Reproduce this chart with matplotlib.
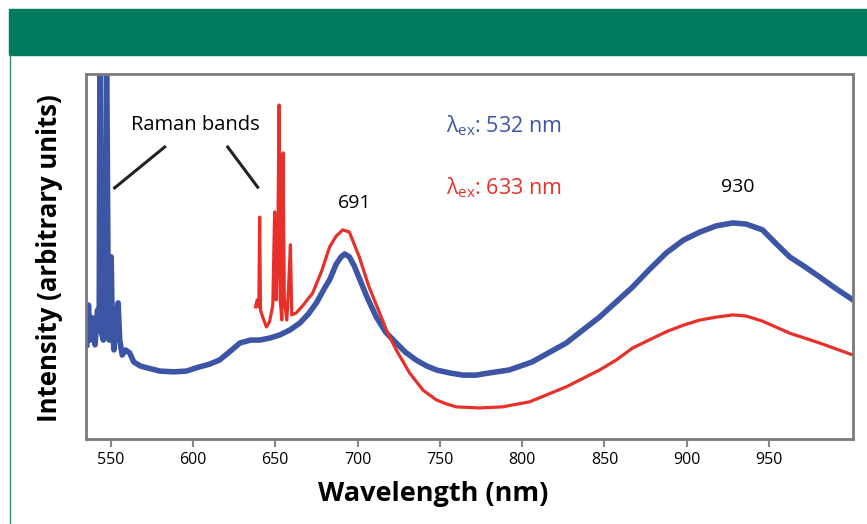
import matplotlib.pyplot as plt
from matplotlib.patches import Rectangle
from matplotlib.lines import Line2D

plt.rcParams['font.family'] = ['Open Sans', 'DejaVu Sans']
plt.rcParams['mathtext.fontset'] = 'custom'
plt.rcParams['mathtext.rm'] = 'Open Sans'

# spectrum excited at 532 nm (blue)
wl_532 = [535.5, 536.5, 537.5, 539, 540.5, 542, 543, 543.5, 544, 545.5, 546.5, 547.5,
          548.5, 549, 550.3, 551, 552, 553, 554.5, 555.5, 557, 559, 561.5, 564, 568,
          572, 580, 588, 596, 602, 610, 616, 622, 628.5, 635, 640.6, 647, 652.7, 659,
          665, 670, 675, 680, 683, 687, 690, 692.2, 695, 698, 702, 706, 711.4, 717,
          723.5, 729, 735.7, 742, 748, 756, 764, 772, 780, 792, 806, 816, 826.8, 837,
          847, 857, 867, 877, 887.6, 898, 908, 918, 928, 936, 946, 955, 962.5, 972,
          980.7, 990, 1001]
int_532 = [25.8, 36.7, 27.1, 33.2, 25.8, 35.3, 29.9, 110, 29.9, 27.1, 40.8, 110,
           38.1, 27.1, 49.9, 29.9, 24.4, 32.6, 37.3, 27.1, 23.0, 24.4, 23.6, 21.1, 20.0,
           19.5, 18.6, 18.4, 18.6, 19.5, 20.5, 21.6, 23.8, 26.3, 27.1, 27.1, 27.7, 28.5, 29.9,
           31.8, 34.2, 37.3, 41.4, 43.6, 47.9, 49.9, 50.7, 49.9, 47.4, 43.0, 38.6, 33.4, 29.3,
           26.3, 23.8, 21.6, 20.0, 18.9, 18.1, 17.5, 17.5, 18.1, 18.9, 21.1, 23.6, 26.3, 29.9,
           33.4, 37.5, 41.6, 46.3, 51.0, 54.5, 56.7, 58.4, 59.2, 58.9, 57.3, 53.2, 49.9, 47.1,
           44.4, 41.4, 38.1]

# spectrum excited at 633 nm (red)
wl_633 = [638, 639, 640, 640.5, 641, 642.5, 644.6, 646.5, 648.5, 649.6, 650.5, 651.5,
          652.3, 653, 654, 654.7, 655.5, 657, 658, 659.2, 660, 662.6, 667, 672.7, 678,
          683, 687, 691, 695, 701, 707, 713.4, 718, 723.5, 731.6, 739.7, 747.9, 754, 760,
          774, 788, 804.6, 826.8, 847, 857, 867, 877, 887.6, 898, 908, 918, 928, 936, 946,
          962.5, 980.7, 1001]
int_633 = [36.2, 38.1, 36.2, 60.8, 35.3, 33.2, 30.7, 32.1, 36.7, 62.2, 38.1, 51.8,
           91.5, 38.1, 32.6, 78.4, 38.1, 32.6, 40.8, 53.2, 34.0, 34.5, 36.7, 40.0, 45.8,
           52.6, 55.6, 57.3, 56.7, 49.9, 41.6, 34.5, 29.3, 24.4, 18.1, 13.4, 10.7, 9.6, 8.8,
           8.5, 8.8, 10.2, 14.3, 18.9, 21.6, 24.9, 27.1, 29.4, 31.2, 32.6, 33.4, 34.0, 33.7, 32.3,
           29.0, 26.3, 23.0]

xticks = [550, 600, 650, 700, 750, 800, 850, 900, 950]

blue = '#3d55a5'
red = '#e8302a'

fig = plt.figure(figsize=(8.67, 5.24), dpi=100)

# green banner and thin left border
fig.patches.append(Rectangle((9/867, 1-55/524), 1, 46/524, transform=fig.transFigure,
                             color='#007b5e', zorder=0))
fig.lines.append(Line2D([9.5/867, 9.5/867], [0, 1-55/524], transform=fig.transFigure,
                        color='#2f8c6f', lw=1))

ax = fig.add_axes([86/867, 1-439/524, 767/867, 365/524])
ax.plot(wl_532, int_532, color=blue, lw=4, solid_joinstyle='round')
ax.plot(wl_633, int_633, color=red, lw=2.3, solid_joinstyle='round')

ax.set_xlim(535, 1001)
ax.set_ylim(0, 100)
ax.set_xticks(xticks)
ax.set_yticks([])
ax.tick_params(axis='x', length=6, width=1.5, color='#888888', labelsize=11.5, pad=3)
for s in ax.spines.values():
    s.set_color('#7a7a7a')
    s.set_linewidth(2)

fig.text(433/867, 1-494/524, 'Wavelength (nm)', fontsize=19.5, fontweight='bold',
         ha='center', va='center')
fig.text(50/867, 1-258/524, 'Intensity (arbitrary units)', fontsize=18.5, fontweight='bold',
         rotation=90, ha='center', va='center')

# annotations
ax.text(601.6, 86, 'Raman bands', fontsize=14.5, ha='center', va='center')
ax.plot([552.4, 582.8], [68.8, 80.0], color='#222222', lw=2.2)
ax.plot([621.1, 639.3], [80.0, 69.0], color='#222222', lw=2.2)
ax.text(698.2, 64.7, '691', fontsize=14, ha='center', va='center')
ax.text(931, 69.0, '930', fontsize=14, ha='center', va='center')
ax.text(753.5, 85.8, r'λ$_{\mathrm{ex}}$: 532 nm', fontsize=15.5, color=blue, va='center')
ax.text(753.5, 68.8, r'λ$_{\mathrm{ex}}$: 633 nm', fontsize=15.5, color=red, va='center')

plt.savefig('out.png', dpi=100)
